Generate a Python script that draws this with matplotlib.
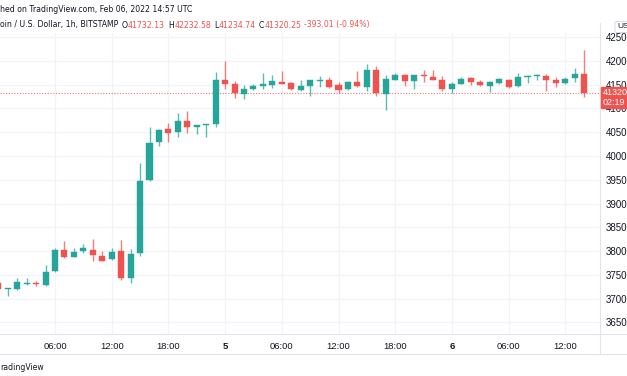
import matplotlib
matplotlib.use("Agg")
import matplotlib.pyplot as plt
from matplotlib.patches import Rectangle
from matplotlib import font_manager

# ---- data (hours since Feb 4 00:00 UTC, 1h candles) ----
hours = list(range(63))
opens = [37326, 37200, 37190, 37300, 37320, 37280, 37570, 38020, 37880, 38000,
         38030, 37890, 37830, 37990, 37430, 37950, 39490, 40300, 40560, 40510,
         40740, 40620, 40650, 40670, 41610, 41520, 41300, 41400, 41480, 41500,
         41560, 41540, 41390, 41480, 41580, 41590, 41500, 41410, 41550, 41460,
         41810, 41310, 41600, 41700, 41580, 41700, 41670, 41610, 41410, 41520,
         41640, 41560, 41470, 41540, 41600, 41470, 41660, 41680, 41690, 41610,
         41540, 41650, 41732.13]
highs = [37380, 37230, 37440, 37430, 37370, 37700, 38060, 38220, 38070, 38140,
         38250, 37990, 38060, 38230, 38040, 39850, 40600, 40560, 40690, 40910,
         40950, 40650, 40680, 41760, 42000, 41580, 41490, 41520, 41740, 41700,
         41790, 41550, 41610, 41610, 41680, 41670, 41550, 41580, 41790, 41940,
         41900, 41710, 41740, 41720, 41710, 41800, 41800, 41690, 41550, 41660,
         41670, 41600, 41570, 41640, 41620, 41740, 41710, 41730, 41730, 41660,
         41670, 41850, 42232.58]
lows = [37180, 37050, 37180, 37290, 37260, 37270, 37560, 37860, 37870, 37950,
        37800, 37780, 37820, 37390, 37320, 37900, 39480, 40200, 40300, 40390,
        40480, 40460, 40410, 40620, 41400, 41230, 41200, 41390, 41400, 41430,
        41510, 41390, 41360, 41260, 41460, 41440, 41320, 41390, 41460, 41370,
        41270, 40970, 41590, 41480, 41400, 41560, 41600, 41370, 41330, 41510,
        41500, 41470, 41340, 41520, 41440, 41460, 41530, 41610, 41370, 41460,
        41520, 41560, 41234.74]
closes = [37200, 37220, 37350, 37320, 37300, 37550, 38030, 37870, 37970, 38060,
          37910, 37800, 37970, 37440, 37940, 39480, 40280, 40550, 40490, 40740,
          40600, 40640, 40670, 41590, 41510, 41320, 41410, 41470, 41510, 41570,
          41520, 41400, 41480, 41600, 41590, 41460, 41390, 41550, 41480, 41810,
          41330, 41620, 41710, 41580, 41700, 41680, 41610, 41410, 41520, 41620,
          41550, 41490, 41560, 41620, 41460, 41660, 41690, 41700, 41600, 41530,
          41630, 41720, 41320.25]

price_ticks = [36500, 37000, 37500, 38000, 38500, 39000, 39500, 40000, 40500,
               41000, 41500, 42000, 42500]
time_ticks = [6, 12, 18, 24, 30, 36, 42, 48, 54, 60]
time_labels = ["06:00", "12:00", "18:00", "5", "06:00", "12:00", "18:00", "6",
               "06:00", "12:00"]
last_price = "41320"
countdown = "02:19"
header1 = "hed on TradingView.com, Feb 06, 2022 14:57 UTC"
header2 = [("oin / U.S. Dollar, 1h, BITSTAMP", "t", 3.5),
           ("O", "t", 0.3), ("41732.13", "r", 3),
           ("H", "t", 0.3), ("42232.58", "r", 3),
           ("L", "t", 0.3), ("41234.74", "r", 3),
           ("C", "t", 0.3), ("41320.25", "r", 3),
           ("-393.01 (-0.94%)", "r", 0)]
footer = "radingView"

UP = "#26a69a"
DOWN = "#ef5350"
GRID = "#f0f3fa"
TXT = "#131722"
FONT = "Liberation Sans"

# look for a condensed sans if one is installed
hdr_font = dict(family=FONT)
for f in font_manager.fontManager.ttflist:
    nm = f.name.lower()
    if ("narrow" in nm or "condensed" in nm) and f.style == "normal":
        hdr_font = dict(family=f.name)
        break
    if str(f.stretch) in ("condensed", "semi-condensed") and f.style == "normal" \
            and f.weight in (400, "normal", "regular"):
        hdr_font = dict(family=f.name, stretch=f.stretch)
        break

W, H = 627, 376
fig = plt.figure(figsize=(W / 100, H / 100), dpi=100)
fig.patch.set_facecolor("white")
renderer = fig.canvas.get_renderer()

def fx(px):
    return px / W

def fy(py):
    return 1 - py / H

left, right, top, bottom = 0, 600, 33, 334
ax = fig.add_axes([fx(left), fy(bottom), fx(right - left), (bottom - top) / H])
ax.set_xlim(0.18, 63.67)
ax.set_ylim(36253, 42589)

for s in ax.spines.values():
    s.set_visible(False)

ax.set_yticks(price_ticks)
ax.set_xticks(time_ticks)
ax.grid(True, color=GRID, lw=0.9)
ax.set_axisbelow(True)
ax.tick_params(length=0)
ax.yaxis.tick_right()
ax.set_yticklabels([str(p) for p in price_ticks], fontsize=7, color=TXT,
                   family=FONT)
ax.tick_params(axis="y", pad=4)
ax.set_xticklabels(time_labels, fontsize=6.8, color=TXT, family=FONT)
ax.tick_params(axis="x", pad=6)
for lbl in ax.get_xticklabels():
    if lbl.get_text() in ("5", "6"):
        lbl.set_fontweight("bold")

# candles
for h, o, hi, lo, c in zip(hours, opens, highs, lows, closes):
    col = UP if c >= o else DOWN
    ax.vlines(h, lo, hi, color=col, lw=1.0, alpha=0.75, zorder=2)
    b = min(o, c)
    ht = max(abs(c - o), 22)
    ax.bar(h, ht, bottom=b, width=0.64, color=col, edgecolor=col, lw=0.3,
           zorder=3)

# current price dotted line
ax.axhline(closes[-1], color=DOWN, lw=0.8, ls=(0, (1, 1.5)), alpha=0.8, zorder=1)

# frame lines
fig.add_artist(plt.Line2D([fx(600), fx(600)], [fy(top - 10), fy(354)],
                          color="#e0e3eb", lw=0.8))
fig.add_artist(plt.Line2D([0, 1], [fy(334), fy(334)], color="#e0e3eb", lw=0.8))
fig.add_artist(plt.Line2D([0, 1], [fy(354), fy(354)], color="#e0e3eb", lw=0.8))

# price tag
fig.add_artist(Rectangle((fx(601), fy(108)), fx(30), 21 / H, color=DOWN,
                         transform=fig.transFigure, zorder=5))
fig.text(fx(603), fy(92.5), last_price, color="white", fontsize=6.5, family=FONT,
         va="center", ha="left", zorder=6)
fig.text(fx(603), fy(102.5), countdown, color="white", fontsize=6.5,
         family=FONT, va="center", ha="left", zorder=6)

# currency button
fig.text(fx(617), fy(27), "USD", color=TXT, fontsize=6, family=FONT,
         va="center", ha="left",
         bbox=dict(boxstyle="round,pad=0.25", fc="white", ec="#d1d4dc", lw=0.6))

# header: size chosen so the first line spans ~182 px as in the reference
t1 = fig.text(fx(0), fy(9), header1, fontsize=7, color=TXT, va="center",
              ha="left", **hdr_font)
w7 = t1.get_window_extent(renderer=renderer).width
hs = min(7.2, 7 * 182 / w7)
hs = max(hs, 6.2)
t1.set_fontsize(hs)

xpos = 0.0
for txt, kind, gap in header2:
    col = TXT if kind == "t" else DOWN
    t = fig.text(fx(xpos), fy(25), txt, fontsize=hs, color=col, va="center",
                 ha="left", **hdr_font)
    xpos += t.get_window_extent(renderer=renderer).width + gap

fig.text(fx(0), fy(367), footer, fontsize=hs, color=TXT, va="center",
         ha="left", **hdr_font)

fig.savefig("out.png", dpi=100)
